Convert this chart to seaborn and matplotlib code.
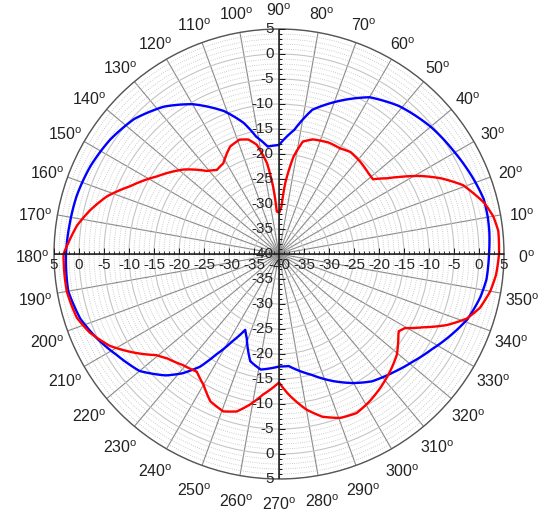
import numpy as np
import pandas as pd
import matplotlib
matplotlib.use('Agg')
import matplotlib.pyplot as plt
import seaborn as sns

# radiation pattern values (angle in degrees, gain in dB)
blue_deg = [0, 6, 10, 15, 21, 30, 40, 51, 60, 68, 77, 83, 90, 96, 101, 105, 111, 120,
            128, 137, 146, 155, 164, 172, 180, 190, 198, 205, 212, 220, 227, 231, 235,
            238, 242, 246, 249, 255, 261, 270, 275, 285, 293, 300, 306, 314, 321, 328,
            335, 341, 348, 353, 360]
blue_db = [2.0, 2.3, 2.4, 2.4, 1.7, 0.6, -0.4, -1.9, -3.8, -6.9, -10.4, -15.0, -18.2,
           -18.4, -16.1, -12.9, -9.4, -5.4, -2.6, -0.4, 0.8, 1.6, 2.1, 2.3, 2.6, 2.8,
           1.8, 0.1, -1.8, -3.6, -6.8, -9.3, -12.5, -16.3, -20.3, -23.4, -22.0, -17.8,
           -16.6, -17.5, -17.5, -15.0, -12.4, -10.2, -8.5, -7.1, -5.7, -4.0, -1.9, -0.1,
           1.2, 1.8, 2.0]

red_deg = [0, 6, 10, 14, 17, 20.5, 25, 29, 32.5, 35, 38.5, 42, 49, 55, 60, 66, 73.5, 78,
           81.5, 85, 87, 89.5, 93, 95, 97.5, 101.5, 105, 109, 114.5, 121.5, 126.5, 131,
           138.5, 147.5, 155.5, 161.5, 167, 172, 177, 180, 190, 197.5, 202.5, 208.5, 214,
           219.5, 223, 229, 235, 240, 245, 250.5, 255, 259, 263.5, 270, 274, 280, 285,
           290.5, 296, 301.5, 307, 313.5, 319.5, 326, 327.2, 329.5, 333, 337, 341, 345,
           350, 354.5, 360]
red_db = [4.0, 4.1, 3.5, 2.3, 0.9, -0.7, -4.2, -7.8, -11.3, -13.6, -16.0, -15.9, -15.4,
          -15.1, -15.6, -15.6, -16.1, -17.0, -20.3, -25.8, -30.5, -31.7, -31.5, -26.5,
          -21.7, -17.7, -16.3, -15.8, -16.4, -18.7, -19.1, -18.0, -14.5, -11.1, -7.3,
          -3.7, -1.2, 0.8, 2.2, 3.1, 3.1, 2.4, 1.0, -1.5, -4.8, -8.2, -9.4, -10.6, -11.3,
          -9.8, -7.5, -6.6, -7.4, -9.3, -11.7, -14.3, -11.8, -8.4, -6.3, -5.0, -4.6, -5.4,
          -6.4, -7.7, -9.0, -11.2, -11.5, -10.8, -7.7, -3.6, -0.3, 1.6, 2.9, 3.6, 4.0]

r_min, r_max = -40, 5
angle_ticks = list(range(0, 360, 10))

df = pd.concat([
    pd.DataFrame({'theta': np.deg2rad(blue_deg), 'gain': blue_db, 'series': 'blue'}),
    pd.DataFrame({'theta': np.deg2rad(red_deg), 'gain': red_db, 'series': 'red'}),
])

sns.set_theme(style='white')
plt.rcParams['font.family'] = ['Liberation Sans', 'DejaVu Sans']
plt.rcParams['mathtext.fontset'] = 'custom'
plt.rcParams['mathtext.rm'] = 'Liberation Sans'

fig = plt.figure(figsize=(5.42, 5.17), dpi=100)
ax = fig.add_axes([54 / 542, 38 / 517, 450 / 542, 450 / 517], projection='polar')
ax.set_ylim(r_min, r_max)

ax.set_xticks(np.deg2rad(angle_ticks))
ax.set_xticklabels([])
ax.set_yticks(np.arange(r_min, r_max + 1, 5))
ax.set_yticks(np.arange(r_min, r_max + 1, 1), minor=True)
ax.set_yticklabels([])
ax.tick_params(axis='both', which='both', length=0)
ax.xaxis.grid(True, color='#8a8a8a', lw=0.8, ls='-')
ax.yaxis.grid(True, which='major', color='#c4c4c4', lw=0.8, ls='-')
ax.yaxis.grid(True, which='minor', color='#bdbdbd', lw=0.6, ls=':')
ax.spines['polar'].set_color('#555555')
ax.spines['polar'].set_linewidth(1.0)

sns.lineplot(data=df, x='theta', y='gain', hue='series', palette={'blue': '#0000ff', 'red': '#ff0000'},
             sort=False, estimator=None, lw=1.7, legend=False, ax=ax)
ax.set_xlabel('')
ax.set_ylabel('')
# let the polar transform bend each segment instead of drawing chords
for line in ax.lines:
    line._path._interpolation_steps = 40

# cross axes through the centre with ticks and labels
for th in [0, np.pi / 2, np.pi, 3 * np.pi / 2]:
    ax.plot([th, th], [r_min, r_max], color='k', lw=1.1, zorder=3)
minor_r = np.arange(r_min + 1, r_max + 1, 1)
major_r = np.arange(r_min + 5, r_max + 1, 5)
for th in [0, np.pi]:
    ax.plot(np.full(len(minor_r), th), minor_r, ls='none', marker=2, ms=2.5, mew=0.6, color='k', zorder=3)
    ax.plot(np.full(len(major_r), th), major_r, ls='none', marker=2, ms=4.5, mew=0.7, color='k', zorder=3)
for th in [np.pi / 2, 3 * np.pi / 2]:
    ax.plot(np.full(len(minor_r), th), minor_r, ls='none', marker=1, ms=2.5, mew=0.6, color='k', zorder=3)
    ax.plot(np.full(len(major_r), th), major_r, ls='none', marker=1, ms=4.5, mew=0.7, color='k', zorder=3)

ax.annotate(str(r_min), xy=(0, r_min), xytext=(0, -3), textcoords='offset points',
            ha='center', va='top', fontsize=11, annotation_clip=False, zorder=4)
ax.annotate(str(r_min), xy=(np.pi / 2, r_min), xytext=(-4, 0), textcoords='offset points',
            ha='right', va='center', fontsize=11, annotation_clip=False, zorder=4)
for r in range(r_min + 5, r_max + 1, 5):
    for th in [0, np.pi]:
        ax.annotate(str(r), xy=(th, r), xytext=(0, -3), textcoords='offset points',
                    ha='center', va='top', fontsize=11, annotation_clip=False, zorder=4)
    for th in [np.pi / 2, 3 * np.pi / 2]:
        ax.annotate(str(r), xy=(th, r), xytext=(-4, 0), textcoords='offset points',
                    ha='right', va='center', fontsize=11, annotation_clip=False, zorder=4)

for d in angle_ticks:
    ax.annotate(f'{d}$^{{\\mathrm{{o}}}}$', xy=(np.deg2rad(d), 9.4), xytext=(0, -3),
                textcoords='offset points', ha='center', va='center',
                fontsize=11.5, color='#222222', annotation_clip=False)

fig.savefig('out.png', dpi=100)
